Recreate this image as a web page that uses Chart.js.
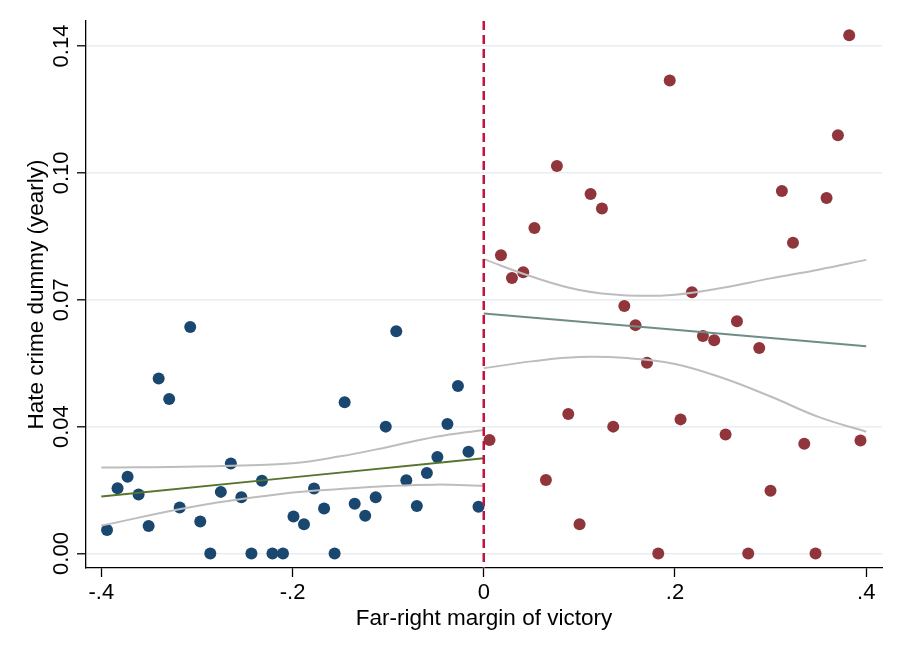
<!DOCTYPE html>
<html>
<head>
<meta charset="utf-8">
<title>Hate crime dummy by far-right margin of victory</title>
<script src="https://cdn.jsdelivr.net/npm/chart.js"></script>
<style>
  html, body { margin: 0; padding: 0; background: #fff; }
  canvas { display: block; }
</style>
</head>
<body>
<canvas id="rdplot" width="901" height="656"></canvas>
<script>
// binned means, far-right lost (margin < 0)
const leftMargin = [-0.394, -0.383, -0.3725, -0.361, -0.3505, -0.340, -0.329, -0.318, -0.307, -0.2965,
                    -0.286, -0.275, -0.2645, -0.2535, -0.243, -0.232, -0.221, -0.210, -0.199, -0.188,
                    -0.1775, -0.167, -0.156, -0.1455, -0.135, -0.124, -0.113, -0.1025, -0.0915, -0.081,
                    -0.070, -0.0595, -0.0485, -0.038, -0.027, -0.016, -0.0055];
const leftRate = [0.0065, 0.0180, 0.0212, 0.0163, 0.0076, 0.0483, 0.0426, 0.0127, 0.0625, 0.0088,
                  0, 0.0170, 0.0248, 0.0155, 0, 0.0201, 0, 0, 0.0102, 0.0081,
                  0.0179, 0.0124, 0, 0.0417, 0.0137, 0.0104, 0.0155, 0.0350, 0.0613, 0.0202,
                  0.0131, 0.0222, 0.0266, 0.0357, 0.0462, 0.0281, 0.0129];

// binned means, far-right won (margin > 0)
const rightMargin = [0.006, 0.018, 0.0295, 0.0413, 0.053, 0.065, 0.0765, 0.0884, 0.1002, 0.1117,
                     0.1236, 0.1354, 0.147, 0.1587, 0.1707, 0.1825, 0.1945, 0.2058, 0.2177, 0.2292,
                     0.241, 0.2529, 0.2648, 0.2766, 0.2881, 0.2999, 0.3118, 0.3234, 0.3352, 0.347,
                     0.3585, 0.3704, 0.3822, 0.394];
const rightRate = [0.0313, 0.0823, 0.0760, 0.0776, 0.0898, 0.0203, 0.1069, 0.0385, 0.0081, 0.0992,
                   0.0952, 0.0350, 0.0683, 0.0630, 0.0526, 0, 0.1305, 0.0370, 0.0721, 0.0600,
                   0.0588, 0.0328, 0.0641, 0, 0.0567, 0.0173, 0.1000, 0.0857, 0.0303, 0,
                   0.0981, 0.1154, 0.1430, 0.0312];

// linear fits and 95% CI
const leftFitX = [-0.4, 0];
const leftFitY = [0.0157, 0.0263];
const rightFitX = [0, 0.4];
const rightFitY = [0.0662, 0.0572];

const leftCiX = [-0.4, -0.3, -0.2, -0.15, -0.1, -0.05, 0];
const leftCiUpper = [0.0237, 0.0240, 0.0249, 0.0268, 0.0294, 0.0322, 0.0341];
const leftCiLower = [0.0077, 0.0131, 0.0168, 0.0178, 0.0186, 0.0190, 0.0187];

const rightCiX = [0, 0.05, 0.1, 0.15, 0.2, 0.25, 0.3, 0.35, 0.4];
const rightCiUpper = [0.0812, 0.0764, 0.0727, 0.0712, 0.0714, 0.0733, 0.0759, 0.0783, 0.0810];
const rightCiLower = [0.0511, 0.0530, 0.0542, 0.0539, 0.0523, 0.0484, 0.0433, 0.0377, 0.0336];

const cutoff = 0;

// axis ticks
const xTickValues = [-0.4, -0.2, 0, 0.2, 0.4];
const xTickLabels = ["-.4", "-.2", "0", ".2", ".4"];
const yTickValues = [0, 0.035, 0.07, 0.105, 0.14];
const yTickLabels = ["0.00", "0.04", "0.07", "0.10", "0.14"];

function pairs(xs, ys) {
  return xs.map((x, i) => ({ x: x, y: ys[i] }));
}

const FONT = '"Liberation Sans", Arial, Helvetica, sans-serif';

function lineSet(data, color) {
  return {
    type: 'scatter',
    data: data,
    showLine: true,
    borderColor: color,
    borderWidth: 2,
    pointRadius: 0,
    tension: 0.4,
    fill: false
  };
}

// dashed line at the threshold
const cutoffLine = {
  id: 'cutoffLine',
  afterDatasetsDraw(chart) {
    const { ctx, chartArea, scales } = chart;
    const px = scales.x.getPixelForValue(cutoff);
    ctx.save();
    ctx.strokeStyle = '#c4123f';
    ctx.lineWidth = 2.5;
    ctx.setLineDash([9, 5]);
    ctx.beginPath();
    ctx.moveTo(px, chartArea.top);
    ctx.lineTo(px, chartArea.bottom);
    ctx.stroke();
    ctx.restore();
  }
};

// tick labels and titles (y labels are rotated like Stata draws them)
const axisText = {
  id: 'axisText',
  afterDraw(chart) {
    const { ctx, chartArea, scales } = chart;
    ctx.save();
    ctx.fillStyle = '#000';
    ctx.textAlign = 'center';
    ctx.textBaseline = 'alphabetic';
    ctx.font = '22px ' + FONT;
    xTickValues.forEach((v, i) => {
      ctx.fillText(xTickLabels[i], scales.x.getPixelForValue(v), chartArea.bottom + 31);
    });
    yTickValues.forEach((v, i) => {
      ctx.save();
      ctx.translate(chartArea.left - 18, scales.y.getPixelForValue(v));
      ctx.rotate(-Math.PI / 2);
      ctx.fillText(yTickLabels[i], 0, 0);
      ctx.restore();
    });
    ctx.font = '22.5px ' + FONT;
    ctx.fillText('Far-right margin of victory', (chartArea.left + chartArea.right) / 2, chartArea.bottom + 57);
    ctx.translate(43, (chartArea.top + chartArea.bottom) / 2);
    ctx.rotate(-Math.PI / 2);
    ctx.fillText('Hate crime dummy (yearly)', 0, 0);
    ctx.restore();
  }
};

new Chart(document.getElementById('rdplot'), {
  type: 'scatter',
  data: {
    datasets: [
      lineSet(pairs(leftFitX, leftFitY), '#55752f'),
      lineSet(pairs(rightFitX, rightFitY), '#6e8e84'),
      lineSet(pairs(leftCiX, leftCiUpper), '#bdbdbd'),
      lineSet(pairs(leftCiX, leftCiLower), '#bdbdbd'),
      lineSet(pairs(rightCiX, rightCiUpper), '#bdbdbd'),
      lineSet(pairs(rightCiX, rightCiLower), '#bdbdbd'),
      {
        data: pairs(leftMargin, leftRate),
        backgroundColor: '#1a476f',
        borderWidth: 0,
        pointRadius: 6,
        pointHoverRadius: 6
      },
      {
        data: pairs(rightMargin, rightRate),
        backgroundColor: '#90353b',
        borderWidth: 0,
        pointRadius: 6,
        pointHoverRadius: 6
      }
    ]
  },
  options: {
    responsive: false,
    animation: false,
    events: [],
    layout: { padding: { left: 86, right: 19, top: 21, bottom: 88 } },
    plugins: {
      legend: { display: false },
      tooltip: { enabled: false }
    },
    scales: {
      x: {
        type: 'linear',
        min: -0.416,
        max: 0.4165,
        afterBuildTicks: s => { s.ticks = xTickValues.map(v => ({ value: v })); },
        afterFit: s => { s.height = 0; },
        ticks: { display: false },
        grid: { drawOnChartArea: false, drawTicks: true, tickLength: 9, tickColor: '#000', tickWidth: 1.3 },
        border: { display: true, color: '#000', width: 1.3 }
      },
      y: {
        type: 'linear',
        min: -0.004,
        max: 0.1469,
        afterBuildTicks: s => { s.ticks = yTickValues.map(v => ({ value: v })); },
        afterFit: s => { s.width = 0; },
        ticks: { display: false },
        grid: { color: '#e8eef1', lineWidth: 1.6, drawTicks: true, tickLength: 9, tickColor: '#000', tickWidth: 1.3 },
        border: { display: true, color: '#000', width: 1.3 }
      }
    }
  },
  plugins: [cutoffLine, axisText]
});
</script>
</body>
</html>
